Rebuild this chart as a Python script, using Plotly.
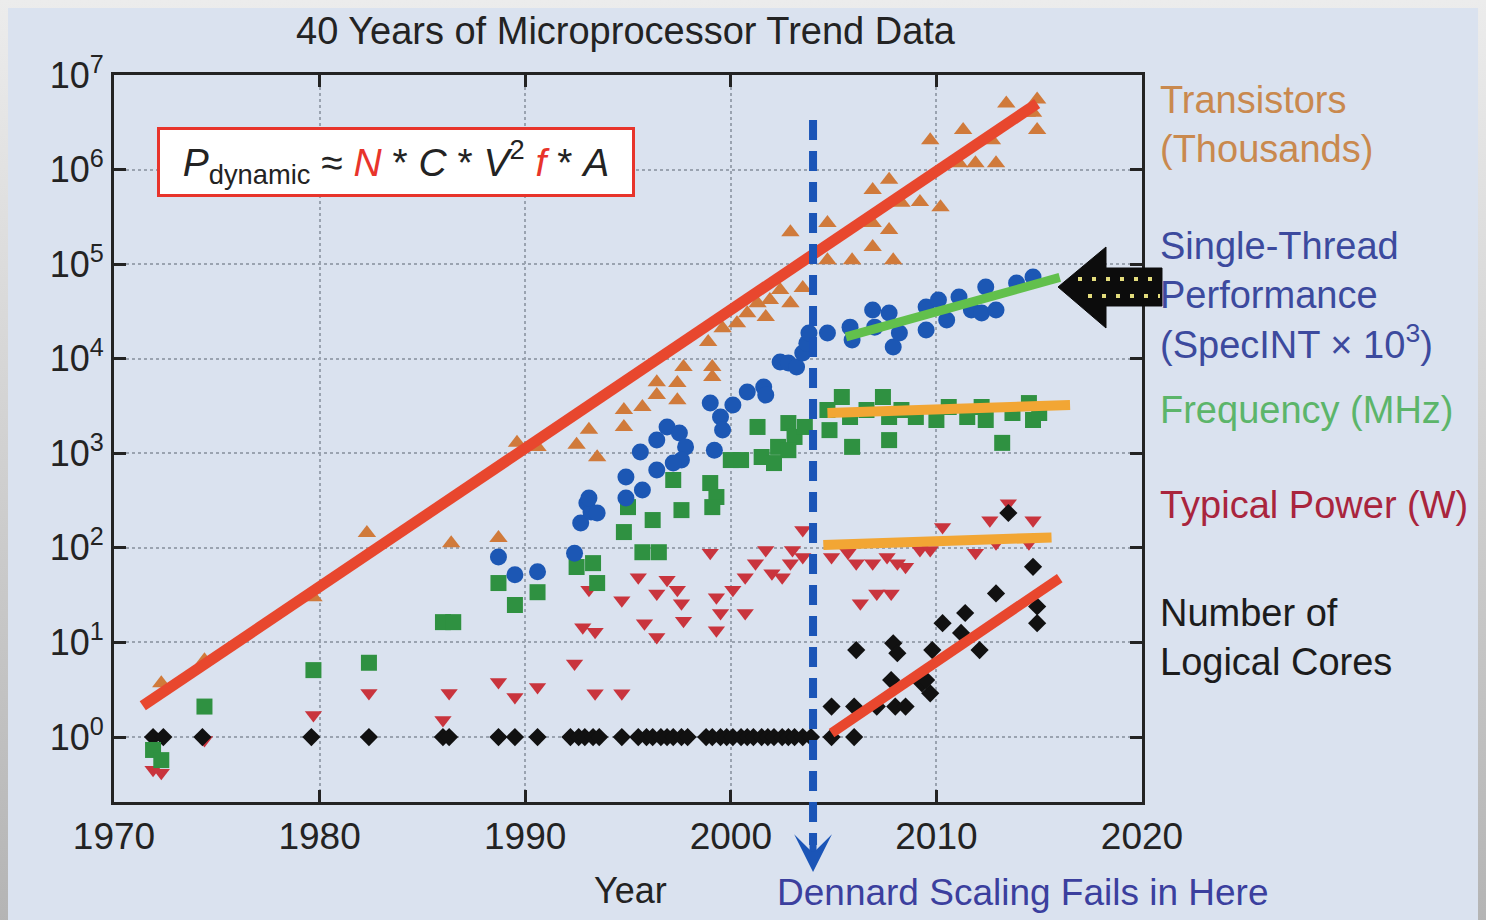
import plotly.graph_objects as go

# ---------------- data ----------------
trans_years = [1972.3, 1974.4, 1979.7, 1982.3, 1986.4, 1988.7, 1989.6, 1990.6, 1992.5, 1993.1,
               1993.5, 1994.8, 1994.8, 1995.7, 1996.4, 1996.4, 1997.4, 1997.4, 1997.7, 1999.1,
               1999.1, 1998.9, 1999.6, 2000.3, 2000.8, 2001.3, 2001.7, 2001.9, 2002.4, 2002.9,
               2003.5, 2002.9, 2004.7, 2004.7, 2005.9, 2006.9, 2006.9, 2006.9, 2007.7, 2007.9,
               2007.7, 2008.3, 2009.2, 2010.2, 2009.7, 2011.1, 2011.9, 2012.9, 2011.3, 2012.7,
               2013.4, 2014.4, 2014.9, 2014.9, 2014.7]
trans_vals = [3.7, 6.5, 30, 144, 112, 127, 1290, 1170, 1230, 1770,
              910, 2870, 1900, 3090, 5650, 4130, 3650, 5530, 8170, 8170,
              6430, 15000, 21000, 23800, 30300, 38700, 27600, 41800, 53400, 38700,
              56000, 218000, 110000, 273000, 110000, 152000, 273000, 610000, 230000, 110000,
              780000, 445000, 455000, 400000, 2.05e6, 1.17e6, 1.17e6, 1.17e6, 2.63e6, 2.05e6,
              5.0e6, 4.0e6, 5.5e6, 2.63e6, 4.0e6]

perf_years = [1988.7, 1989.5, 1990.6, 1992.4, 1992.7, 1993.0, 1993.2, 1993.1, 1993.5, 1994.9,
              1994.9, 1995.7, 1995.6, 1996.4, 1996.4, 1996.9, 1997.5, 1997.8, 1997.6, 1997.2,
              1999.0, 1999.2, 1999.5, 1999.6, 2000.1, 2000.8, 2001.6, 2001.7, 2002.4, 2002.8,
              2003.2, 2003.5, 2003.7, 2003.8, 2004.7, 2005.8, 2005.9, 2006.9, 2007.0, 2007.7,
              2007.9, 2008.2, 2009.5, 2009.5, 2010.1, 2010.5, 2011.1, 2011.7, 2012.4, 2012.2,
              2012.9, 2013.9, 2014.7]
perf_vals = [80, 52, 56, 88, 183, 298, 239, 337, 234, 337,
             561, 409, 1030, 1380, 666, 1900, 1640, 1170, 849, 789,
             3400, 1080, 2420, 1760, 3240, 4450, 5020, 4130, 9230, 9020,
             8170, 11500, 14600, 18700, 18700, 21600, 15800, 32700, 21600, 30400,
             13300, 18700, 35200, 20100, 41800, 25700, 45000, 32700, 57300, 30400,
             32700, 63200, 73100]

freq_years = [1971.9, 1972.3, 1974.4, 1979.7, 1982.4, 1986.0, 1986.5, 1988.7, 1989.5, 1990.6,
              1992.5, 1993.3, 1993.5, 1994.8, 1995.0, 1996.2, 1995.7, 1996.5, 1997.2, 1997.6,
              1999.0, 1999.3, 1999.1, 2000.0, 2000.5, 2001.3, 2001.5, 2002.1, 2002.3, 2002.8,
              2003.1, 2003.6, 2002.8, 2004.7, 2004.8, 2005.4, 2005.8, 2005.9, 2006.6, 2007.4,
              2007.7, 2007.7, 2008.3, 2009.0, 2010.0, 2010.6, 2011.5, 2012.2, 2012.4, 2013.2,
              2013.7, 2014.5, 2014.7, 2015.0]
freq_vals = [0.73, 0.57, 2.1, 5.1, 6.1, 16.4, 16.4, 42.5, 24.9, 34,
             62.8, 69, 42.5, 147, 270, 197, 90, 90, 522, 251,
             485, 345, 270, 849, 849, 1900, 914, 789, 1170, 2090,
             1490, 1900, 1080, 2870, 1760, 3940, 2420, 1170, 2870, 3940,
             2420, 1380, 2870, 2420, 2250, 3090, 2420, 3090, 2250, 1290,
             2670, 3400, 2250, 2670]

power_years = [1971.9, 1972.3, 1974.4, 1979.7, 1982.4, 1986.0, 1986.3, 1988.7, 1989.5, 1990.6,
               1992.4, 1992.8, 1993.4, 1993.1, 1993.4, 1994.7, 1994.7, 1995.5, 1995.8, 1996.4,
               1996.4, 1996.9, 1997.4, 1997.6, 1997.7, 1999.0, 1999.3, 1999.5, 1999.3, 2000.1,
               2000.7, 2000.7, 2001.2, 2001.7, 2002.0, 2002.5, 2002.9, 2003.0, 2003.5, 2003.5,
               2004.9, 2005.7, 2006.1, 2006.3, 2007.1, 2007.8, 2006.9, 2007.6, 2008.1, 2008.5,
               2009.2, 2009.7, 2010.3, 2011.9, 2012.6, 2012.9, 2013.5, 2014.7, 2014.5]
power_vals = [0.45, 0.42, 0.93, 1.71, 2.92, 1.51, 2.92, 3.82, 2.65, 3.38,
              6.0, 14.5, 13, 36, 2.9, 2.9, 28, 49, 16, 11.4,
              33, 46, 36, 26, 17, 89, 30, 20.5, 13.5, 36,
              20.5, 49, 69, 95, 54, 49, 69, 95, 80, 155,
              80, 89, 69, 26, 33, 33, 69, 80, 69, 63,
              95, 95, 166, 89, 196, 112, 297, 196, 112]

cores_years = [1971.9, 1972.4, 1974.3, 1979.6, 1982.4, 1986.0, 1986.3, 1988.7, 1989.5, 1990.6,
               1992.2, 1992.6, 1992.9, 1993.3, 1993.6, 1994.7, 1995.5, 1995.9, 1996.2, 1996.6,
               1996.9, 1997.2, 1997.6, 1997.9, 1998.8, 1999.1, 1999.5, 1999.8, 2000.1, 2000.5,
               2000.8, 2001.1, 2001.5, 2001.8, 2002.1, 2002.5, 2002.8, 2003.1, 2003.5, 2003.9,
               2004.9, 2006.0, 2004.9, 2006.0, 2006.1, 2007.1, 2007.8, 2008.0, 2008.5, 2007.9,
               2008.1, 2009.3, 2009.7, 2009.5, 2009.8, 2010.3, 2011.4, 2011.2, 2012.1, 2012.9,
               2014.7, 2014.9, 2014.9, 2013.5]
cores_vals = [1, 1, 1, 1, 1, 1, 1, 1, 1, 1,
              1, 1, 1, 1, 1, 1, 1, 1, 1, 1,
              1, 1, 1, 1, 1, 1, 1, 1, 1, 1,
              1, 1, 1, 1, 1, 1, 1, 1, 1, 1,
              1, 1, 2.1, 2.1, 8.3, 2.1, 4, 2.1, 2.1, 9.8,
              7.7, 3.7, 2.9, 4, 8.3, 16, 20.5, 12.6, 8.3, 33,
              63, 24, 16, 234]

# trend lines (end points)
trend_trans_years = [1971.4, 2014.9]
trend_trans_vals = [2.14, 5.0e6]
trend_perf_years = [2005.6, 2016.0]
trend_perf_vals = [17000, 72400]
trend_freq_years = [2004.7, 2016.5]
trend_freq_vals = [2670, 3240]
trend_power_years = [2004.5, 2015.6]
trend_power_vals = [107, 129]
trend_cores_years = [2004.9, 2016.0]
trend_cores_vals = [1.1, 48]

dennard_year = 2004.0

x_ticks = [1970, 1980, 1990, 2000, 2010, 2020]
y_tick_exps = [0, 1, 2, 3, 4, 5, 6, 7]

# ---------------- styling ----------------
OFF = 8                      # the page body margin of the browser
W, H = 1486 - OFF, 920 - OFF
L, R, T, B = 114, 1142, 75, 802   # plot frame in page pixels
BG = '#dae2ef'
FONT = 'Liberation Sans, Arial, Helvetica, sans-serif'
INK = '#232323'


def px(x):
    return (x - L) / (R - L)


def py(y):
    return (B - y) / (B - T)


fig = go.Figure()


def add_pts(x, y, symbol, color, size):
    fig.add_trace(go.Scatter(x=x, y=y, mode='markers', showlegend=False, hoverinfo='skip',
                             marker=dict(symbol=symbol, color=color, size=size, line=dict(width=0))))


def add_line(x, y, color, width):
    fig.add_trace(go.Scatter(x=x, y=y, mode='lines', showlegend=False, hoverinfo='skip',
                             line=dict(color=color, width=width)))


add_pts(power_years, power_vals, 'triangle-down', '#c9343d', 15)
add_pts(cores_years, cores_vals, 'diamond', '#111111', 14)
add_pts(freq_years, freq_vals, 'square', '#2f9141', 16)
add_pts(perf_years, perf_vals, 'circle', '#1c57b4', 17)
add_pts(trans_years, trans_vals, 'triangle-up', '#d07a3b', 16)

add_line(trend_trans_years, trend_trans_vals, '#e8472e', 11)
add_line(trend_perf_years, trend_perf_vals, '#62c04c', 9)
add_line(trend_freq_years, trend_freq_vals, '#f2a634', 10)
add_line(trend_power_years, trend_power_vals, '#f2a634', 10)
add_line(trend_cores_years, trend_cores_vals, '#e8472e', 10)

axis_common = dict(ticks='inside', ticklen=12, tickwidth=3, tickcolor=INK,
                   showline=True, linewidth=3, linecolor=INK, mirror='ticks',
                   showgrid=True, gridcolor='#9aa3b0', griddash='dot', gridwidth=1.5,
                   zeroline=False)

fig.update_xaxes(range=[1970, 2020], tickvals=x_ticks, ticktext=[str(v) for v in x_ticks],
                 tickfont=dict(size=37, color=INK, family=FONT), **axis_common)
fig.update_yaxes(type='log', range=[-0.687, 7.0005], tickvals=[10 ** e for e in y_tick_exps],
                 ticktext=['10<sup>%d</sup>' % e for e in y_tick_exps],
                 tickfont=dict(size=36, color=INK, family=FONT), **axis_common)

shapes = []
# Dennard dashed line
shapes.append(dict(type='line', xref='x', yref='paper', x0=dennard_year, x1=dennard_year,
                   y0=py(120), y1=py(845), line=dict(color='#1b55b7', width=8, dash='20px,11px'),
                   layer='above'))
# black block arrow pointing at single-thread performance
pts = [(1058, 287), (1106, 247), (1106, 268), (1162, 268), (1162, 306), (1106, 306), (1106, 328)]
path = 'M ' + ' L '.join('%f,%f' % (px(a), py(b)) for a, b in pts) + ' Z'
shapes.append(dict(type='path', xref='paper', yref='paper', path=path, fillcolor='#0c0c0c',
                   line=dict(color='#0c0c0c', width=1), layer='above'))
for (xa, xb, yy) in [(1078, 1160, 279), (1088, 1160, 296)]:
    shapes.append(dict(type='line', xref='paper', yref='paper', x0=px(xa), x1=px(xb), y0=py(yy), y1=py(yy),
                       line=dict(color='#e3dc7c', width=4, dash='4px,10px'), layer='above'))

annotations = []
annotations.append(dict(text='40 Years of Microprocessor Trend Data', xref='paper', yref='paper',
                        x=px(626), y=py(31), xanchor='center', yanchor='middle', showarrow=False,
                        font=dict(size=38, color=INK, family=FONT)))
annotations.append(dict(text='Year', xref='paper', yref='paper', x=px(630), y=py(890),
                        xanchor='center', yanchor='middle', showarrow=False,
                        font=dict(size=36, color=INK, family=FONT)))
annotations.append(dict(text='Dennard Scaling Fails in Here', xref='paper', yref='paper',
                        x=px(1023), y=py(893), xanchor='center', yanchor='middle', showarrow=False,
                        font=dict(size=37, color='#3b3f9e', family=FONT)))
# arrow head of the Dennard line
annotations.append(dict(text='', xref='x', yref='paper', x=dennard_year, y=py(872), ax=0, ay=-36,
                        showarrow=True, arrowhead=3, arrowsize=0.9, arrowwidth=7, arrowcolor='#1b55b7'))

RED = '#e8342b'
formula = ('<i>P</i><sub>dynamic</sub> \u2248 <i><span style="color:%s">N</span></i> * '
           '<i>C</i> * <i>V</i><sup>2</sup> <i><span style="color:%s">f</span></i> * <i>A</i>') % (RED, RED)
annotations.append(dict(text=formula, xref='paper', yref='paper', x=px(396), y=py(162),
                        xanchor='center', yanchor='middle', showarrow=False,
                        width=466, height=58, borderpad=3, borderwidth=3, bordercolor=RED,
                        bgcolor='#ffffff', font=dict(size=39, color=INK, family=FONT)))

labels = [
    ('Transistors<br>(Thousands)', 124, '#c9894e'),
    ('Single-Thread<br>Performance<br>(SpecINT \u00d7 10<sup>3</sup>)', 295, '#3c4a9e'),
    ('Frequency (MHz)', 410, '#5cb56a'),
    ('Typical Power (W)', 505, '#a9253d'),
    ('Number of<br>Logical Cores', 637, '#1c1c1c'),
]
for txt, yc, col in labels:
    annotations.append(dict(text=txt, xref='paper', yref='paper', x=px(1158), y=py(yc),
                            xanchor='left', yanchor='middle', align='left', showarrow=False,
                            font=dict(size=38, color=col, family=FONT)))

fig.update_layout(width=W, height=H,
                  margin=dict(l=L - OFF, r=W - (R - OFF), t=T - OFF, b=H - (B - OFF)),
                  paper_bgcolor=BG, plot_bgcolor=BG, showlegend=False,
                  font=dict(family=FONT, color=INK), shapes=shapes, annotations=annotations)

fig.write_html('out.html',
               post_script="document.body.style.background='linear-gradient(to bottom, #ececec, #b4b4b4)';")
